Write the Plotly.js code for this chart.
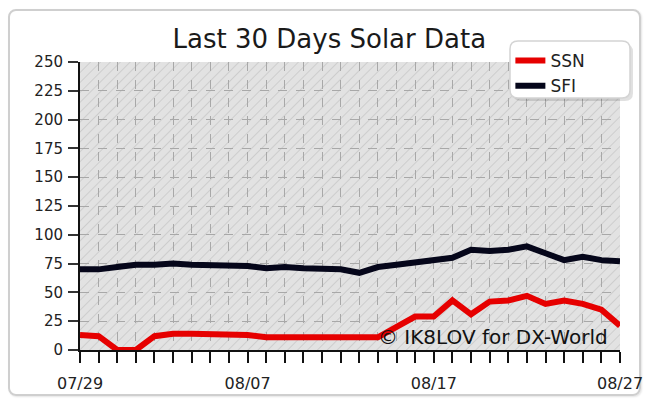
<!DOCTYPE html>
<html><head><meta charset="utf-8">
<script src="https://cdn.plot.ly/plotly-3.0.1.min.js"></script>
<style>
html,body{margin:0;padding:0;background:#fff;}
#frame{position:absolute;left:8px;top:9px;width:629px;height:383px;border:2px solid #cfcfcf;border-radius:8px;box-shadow:1px 1px 2px #e4e4e4;}
#chart{position:absolute;left:0;top:0;width:647px;height:406px;}
</style></head>
<body>
<div id="frame"></div>
<div id="chart"></div>
<script>
const dates = ["07/29","07/30","07/31","08/01","08/02","08/03","08/04","08/05","08/06","08/07",
  "08/08","08/09","08/10","08/11","08/12","08/13","08/14","08/15","08/16","08/17",
  "08/18","08/19","08/20","08/21","08/22","08/23","08/24","08/25","08/26","08/27"];
const ssn = [13,12,0,0,12,14,14,14,14,13,11,11,11,11,11,11,11,20,29,29,43,31,42,43,47,40,43,40,35,21];
const sfi = [70,70,72,74,74,75,74,74,74,73,71,72,71,71,70,67,72,74,76,77,80,87,86,87,90,84,78,81,78,77];
const labeledDates = ["07/29","08/07","08/17","08/27"];
const yTicks = [0,25,50,75,100,125,150,175,200,225,250];

const PW = 540, PH = 288;
const hatch = '<svg xmlns="http://www.w3.org/2000/svg" width="540" height="288">' +
  '<defs><pattern id="p" width="7" height="7" patternUnits="userSpaceOnUse" patternTransform="rotate(45)">' +
  '<line x1="0" y1="0" x2="0" y2="7" stroke="#c4c4c4" stroke-width="1.4"/></pattern></defs>' +
  '<rect width="540" height="288" fill="#e2e2e2"/><rect width="540" height="288" fill="url(#p)"/></svg>';
const hatchUri = 'data:image/svg+xml;base64,' + btoa(hatch);

function roundRect(x0, y0, x1, y1, r) {
  const X = v => (v / PW).toFixed(5), Y = v => (1 - v / PH).toFixed(5);
  return `M${X(x0 + r)},${Y(y0)} L${X(x1 - r)},${Y(y0)} Q${X(x1)},${Y(y0)} ${X(x1)},${Y(y0 + r)} ` +
    `L${X(x1)},${Y(y1 - r)} Q${X(x1)},${Y(y1)} ${X(x1 - r)},${Y(y1)} L${X(x0 + r)},${Y(y1)} ` +
    `Q${X(x0)},${Y(y1)} ${X(x0)},${Y(y1 - r)} L${X(x0)},${Y(y0 + r)} Q${X(x0)},${Y(y0)} ${X(x0 + r)},${Y(y0)} Z`;
}
const lb = {x0: 430, y0: -21, x1: 550, y1: 36};

const font = "DejaVu Sans, Verdana, sans-serif";
const traces = [
  {x: dates, y: ssn, name: "SSN", type: "scatter", mode: "lines",
   line: {color: "#e60000", width: 6}},
  {x: dates, y: sfi, name: "SFI", type: "scatter", mode: "lines",
   line: {color: "#05061a", width: 6}}
];
const layout = {
  width: 647, height: 406,
  margin: {l: 80, r: 27, t: 62, b: 56},
  paper_bgcolor: "rgba(0,0,0,0)",
  plot_bgcolor: "#e2e2e2",
  title: {text: "Last 30 Days Solar Data", x: 0.509, xref: "container", y: 0.905, yref: "container",
    yanchor: "middle", font: {family: font, size: 26, color: "#1a1a1a"}},
  font: {family: font, color: "#222"},
  showlegend: true,
  legend: {x: 0.797, y: 1.066, xanchor: "left", yanchor: "top", bgcolor: "rgba(0,0,0,0)",
    borderwidth: 0, font: {family: font, size: 17, color: "#222"},
    tracegroupgap: 0, itemwidth: 30},
  xaxis: {type: "category", range: [0, dates.length - 1], tickmode: "array", tickvals: dates,
    ticktext: dates.map(d => labeledDates.includes(d) ? d : ""),
    ticks: "outside", ticklen: 11, tickwidth: 2, tickcolor: "#111",
    showline: true, linecolor: "#111", linewidth: 2,
    showgrid: true, gridcolor: "#a8a8a8", griddash: "dash", gridwidth: 1,
    tickfont: {family: font, size: 16, color: "#222"}, ticklabelstandoff: 7, fixedrange: true},
  yaxis: {range: [0, 250], tickmode: "array", tickvals: yTicks,
    ticks: "outside", ticklen: 10, tickwidth: 2, tickcolor: "#333",
    showline: true, linecolor: "#111", linewidth: 2, zeroline: false,
    showgrid: true, gridcolor: "#a8a8a8", griddash: "dash", gridwidth: 1,
    tickfont: {family: font, size: 15, color: "#222"}, ticklabelstandoff: 2, fixedrange: true},
  images: [{source: hatchUri, xref: "paper", yref: "paper", x: 0, y: 1, sizex: 1, sizey: 1,
    xanchor: "left", yanchor: "top", sizing: "stretch", layer: "below"}],
  shapes: [
    {type: "path", xref: "paper", yref: "paper", path: roundRect(lb.x0 + 3, lb.y0 + 3, lb.x1 + 3, lb.y1 + 3, 8),
     fillcolor: "rgba(0,0,0,0.12)", line: {width: 0}, layer: "above"},
    {type: "path", xref: "paper", yref: "paper", path: roundRect(lb.x0, lb.y0, lb.x1, lb.y1, 8),
     fillcolor: "#ffffff", line: {color: "#d4d4d4", width: 1.5}, layer: "above"}
  ],
  annotations: [{text: "\u00A9 IK8LOV for DX-World", xref: "paper", yref: "paper",
    x: 0.982, y: -0.005, xanchor: "right", yanchor: "bottom", showarrow: false,
    font: {family: font, size: 20, color: "#111"}}]
};
Plotly.newPlot("chart", traces, layout, {displayModeBar: false, staticPlot: true});
</script>
</body></html>
